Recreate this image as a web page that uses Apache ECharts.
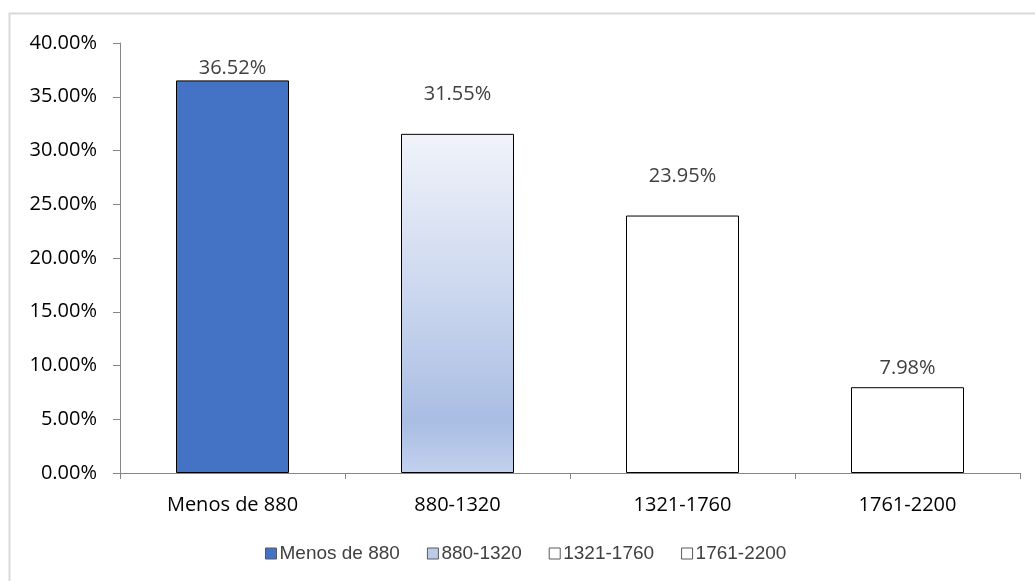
<!DOCTYPE html>
<html>
<head>
<meta charset="utf-8">
<script src="https://cdn.jsdelivr.net/npm/echarts@6/dist/echarts.min.js"></script>
<style>
html,body{margin:0;padding:0;background:#fff;}
#c{width:1035px;height:581px;}
</style>
</head>
<body>
<div id="c"></div>
<script>
const categories = ['Menos de 880', '880-1320', '1321-1760', '1761-2200'];
const values = [36.52, 31.55, 23.95, 7.98];
const yTicks = { min: 0, max: 40, interval: 5 };

const labelDistances = [2, 30, 29, 9];
const fills = [
  '#4472C4',
  new echarts.graphic.LinearGradient(0, 0, 0, 1, [
    { offset: 0, color: '#f0f3fa' },
    { offset: 0.5, color: '#c9d5ee' },
    { offset: 0.85, color: '#a9bde3' },
    { offset: 1, color: '#c3d1ed' }
  ]),
  '#ffffff',
  '#ffffff'
];
const legendFills = ['#4472C4', '#bccbe8', '#ffffff', '#ffffff'];

const series = categories.map((name, i) => ({
  name: name,
  type: 'bar',
  stack: 'all',
  barWidth: 113,
  data: categories.map((c, j) => (j === i ? values[i] : '-')),
  itemStyle: { color: fills[i], borderColor: '#000', borderWidth: 1 },
  label: {
    show: true,
    position: 'top',
    distance: labelDistances[i],
    color: '#404040',
    fontFamily: 'Open Sans',
    fontSize: 20,
    formatter: p => p.value.toFixed(2) + '%'
  }
}));

const chart = echarts.init(document.getElementById('c'), null, { renderer: 'canvas' });
chart.setOption({
  animation: false,
  backgroundColor: '#fff',
  graphic: [{
    type: 'rect',
    shape: { x: 9.5, y: 13.5, width: 1100, height: 700 },
    style: { fill: 'none', stroke: '#d9d9d9', lineWidth: 2 },
    silent: true
  }],
  grid: { left: 120, right: 15, top: 43, bottom: 108 },
  legend: {
    top: 544,
    left: 265,
    padding: 0,
    itemWidth: 11,
    itemHeight: 11,
    itemGap: 27,
    icon: 'rect',
    textStyle: { color: '#404040', fontFamily: 'Liberation Sans', fontSize: 19, padding: [0, 0, 0, -2] },
    data: categories.map((n, i) => ({
      name: n,
      itemStyle: { color: legendFills[i], borderColor: '#595959', borderWidth: 1 }
    }))
  },
  xAxis: {
    type: 'category',
    data: categories,
    axisLine: { lineStyle: { color: '#868686', width: 1 } },
    axisTick: { show: true, length: 6, lineStyle: { color: '#868686' } },
    axisLabel: { color: '#000', fontFamily: 'Open Sans', fontSize: 20, margin: 22 }
  },
  yAxis: {
    type: 'value',
    min: yTicks.min,
    max: yTicks.max,
    interval: yTicks.interval,
    axisLine: { show: true, lineStyle: { color: '#868686', width: 1 } },
    axisTick: { show: true, length: 7, lineStyle: { color: '#868686' } },
    splitLine: { show: false },
    axisLabel: {
      color: '#000',
      fontFamily: 'Open Sans',
      fontSize: 20,
      margin: 23,
      formatter: v => v.toFixed(2) + '%'
    }
  },
  series: series
});
</script>
</body>
</html>
